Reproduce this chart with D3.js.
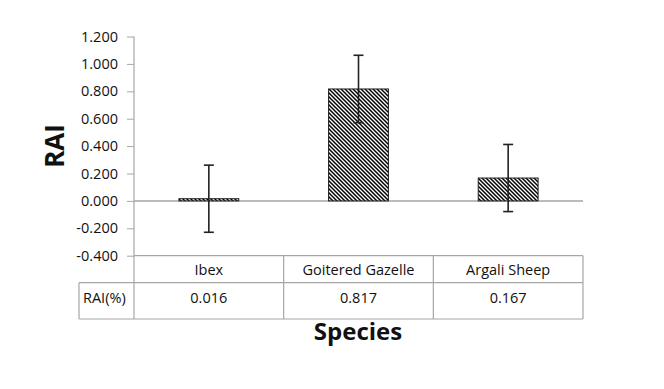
<!DOCTYPE html>
<html>
<head>
<meta charset="utf-8">
<script src="https://cdn.jsdelivr.net/npm/d3@7"></script>
<style>
  body { margin: 0; background: #fff; }
  text { font-family: "Open Sans", sans-serif; fill: #111; }
</style>
</head>
<body>
<script>
// Data
var species = ["Ibex", "Goitered Gazelle", "Argali Sheep"];
var raiValues = [0.016, 0.817, 0.167];
var raiErrors = [0.245, 0.246, 0.245];
var yTicks = [-0.4, -0.2, 0, 0.2, 0.4, 0.6, 0.8, 1.0, 1.2];
var rowLabel = "RAI(%)";

// Plot box
var plotLeft = 134, plotRight = 583, plotTop = 36.5, plotBottom = 255.7;
var rowH = 27, tableLeft = 79, tableBottom = 319;
var fs = "14.5px";

// Excel style numbers: plain hyphen for minus
var fmt = function(v) { return d3.format(".3f")(v).replace("\u2212", "-"); };

var svg = d3.select("body").append("svg")
    .attr("width", 664)
    .attr("height", 389);

// Hatch pattern for the bars
var pat = svg.append("defs").append("pattern")
    .attr("id", "hatch")
    .attr("patternUnits", "userSpaceOnUse")
    .attr("width", 4)
    .attr("height", 4);
pat.append("rect").attr("width", 4).attr("height", 4).attr("fill", "#fff");
pat.append("path")
    .attr("d", "M0,0 L4,4 M-1,3 L1,5 M3,-1 L5,1")
    .attr("stroke", "#000")
    .attr("stroke-width", 1.5);

var x = d3.scaleBand()
    .domain(species)
    .range([plotLeft, plotRight])
    .paddingInner(0);

var y = d3.scaleLinear()
    .domain([-0.4, 1.2])
    .range([plotBottom, plotTop]);

var grey = "#a6a6a6";

// Y axis
var yAxis = svg.append("g")
    .attr("transform", "translate(" + plotLeft + ",0)")
    .call(d3.axisLeft(y)
      .tickValues(yTicks)
      .tickFormat(fmt)
      .tickSize(7)
      .tickPadding(9));
yAxis.select(".domain").remove();
yAxis.selectAll(".tick line").attr("stroke", grey);
yAxis.selectAll(".tick text")
    .style("font-size", fs)
    .attr("fill", "#111");

// axis line runs from top down through the table
svg.append("line")
    .attr("x1", plotLeft).attr("x2", plotLeft)
    .attr("y1", plotTop).attr("y2", tableBottom)
    .attr("stroke", grey)
    .attr("stroke-width", 1.2);

// zero line
svg.append("line")
    .attr("x1", plotLeft).attr("x2", plotRight)
    .attr("y1", y(0)).attr("y2", y(0))
    .attr("stroke", grey)
    .attr("stroke-width", 1.5);

// Bars
var barW = x.bandwidth() * 0.4;
svg.selectAll(".bar")
    .data(species)
    .enter().append("rect")
    .attr("class", "bar")
    .attr("x", function(d) { return x(d) + (x.bandwidth() - barW) / 2; })
    .attr("width", barW)
    .attr("y", function(d, i) { return y(raiValues[i]); })
    .attr("height", function(d, i) { return y(0) - y(raiValues[i]); })
    .attr("fill", "url(#hatch)")
    .attr("stroke", "#222")
    .attr("stroke-width", 1);

// Error bars
var eb = svg.selectAll(".err")
    .data(species)
    .enter().append("g")
    .attr("class", "err")
    .attr("stroke", "#222")
    .attr("stroke-width", 1.6);
eb.append("line")
    .attr("x1", function(d) { return x(d) + x.bandwidth() / 2; })
    .attr("x2", function(d) { return x(d) + x.bandwidth() / 2; })
    .attr("y1", function(d, i) { return y(raiValues[i] + raiErrors[i]); })
    .attr("y2", function(d, i) { return y(raiValues[i] - raiErrors[i]); });
[1, -1].forEach(function(s) {
  eb.append("line")
    .attr("x1", function(d) { return x(d) + x.bandwidth() / 2 - 5; })
    .attr("x2", function(d) { return x(d) + x.bandwidth() / 2 + 5; })
    .attr("y1", function(d, i) { return y(raiValues[i] + s * raiErrors[i]); })
    .attr("y2", function(d, i) { return y(raiValues[i] + s * raiErrors[i]); });
});

// Data table under the plot
var t = svg.append("g").attr("stroke", grey).attr("stroke-width", 1.2);
t.append("line").attr("x1", plotLeft).attr("x2", plotRight)
    .attr("y1", plotBottom).attr("y2", plotBottom);
t.append("line").attr("x1", tableLeft).attr("x2", plotRight)
    .attr("y1", plotBottom + rowH).attr("y2", plotBottom + rowH);
t.append("line").attr("x1", tableLeft).attr("x2", plotRight)
    .attr("y1", tableBottom).attr("y2", tableBottom);
t.append("line").attr("x1", tableLeft).attr("x2", tableLeft)
    .attr("y1", plotBottom + rowH).attr("y2", tableBottom);
t.selectAll(".vsep")
    .data(species)
    .enter().append("line")
    .attr("x1", function(d) { return x(d) + x.bandwidth(); })
    .attr("x2", function(d) { return x(d) + x.bandwidth(); })
    .attr("y1", plotBottom)
    .attr("y2", tableBottom);

svg.selectAll(".cat")
    .data(species)
    .enter().append("text")
    .attr("x", function(d) { return x(d) + x.bandwidth() / 2; })
    .attr("y", plotBottom + 19)
    .attr("text-anchor", "middle")
    .style("font-size", fs)
    .text(function(d) { return d; });

svg.selectAll(".val")
    .data(species)
    .enter().append("text")
    .attr("x", function(d) { return x(d) + x.bandwidth() / 2; })
    .attr("y", plotBottom + rowH + 20)
    .attr("text-anchor", "middle")
    .style("font-size", fs)
    .text(function(d, i) { return fmt(raiValues[i]); });

svg.append("text")
    .attr("x", tableLeft + 4)
    .attr("y", plotBottom + rowH + 20)
    .style("font-size", fs)
    .text(rowLabel);

// Axis titles
svg.append("text")
    .attr("transform", "translate(64,146) rotate(-90)")
    .attr("text-anchor", "middle")
    .style("font-size", "26px")
    .style("font-weight", "bold")
    .text("RAI");

svg.append("text")
    .attr("x", 358)
    .attr("y", 340)
    .attr("text-anchor", "middle")
    .style("font-size", "24px")
    .style("font-weight", "bold")
    .text("Species");
</script>
</body>
</html>
